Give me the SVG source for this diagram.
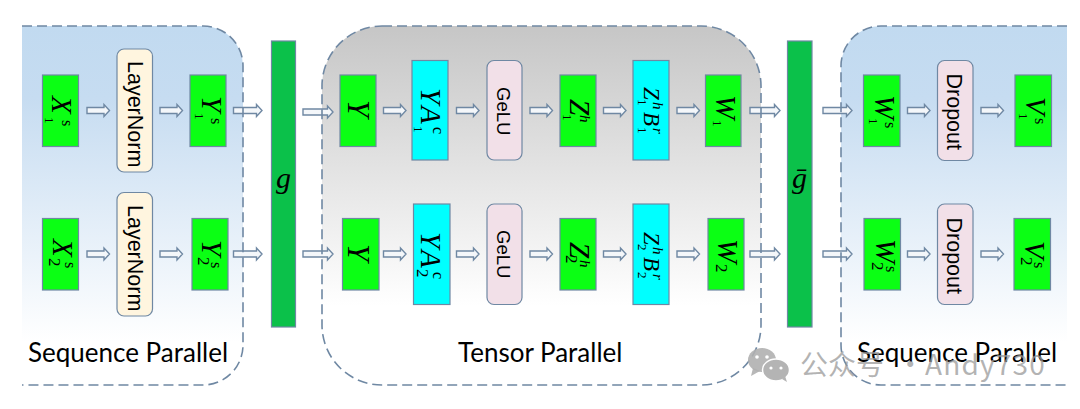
<svg xmlns="http://www.w3.org/2000/svg" width="1080" height="409" viewBox="0 0 1080 409">
<style>
.b{stroke:#6f88a3;stroke-width:1.2}
.gr{fill:#0bff14}.cy{fill:#00ffff}.bar{fill:#0bc14a}.ln{fill:#fff5df}.pk{fill:#f2e0e8}
.dash{fill:none;stroke:#6f88a3;stroke-width:1.6;stroke-dasharray:10 5}
.ar{fill:#f4f7fa;stroke:#6f88a3;stroke-width:1.4}
.m{font-family:"Liberation Serif",serif;font-style:italic;font-size:29px;fill:#000}
.m2{font-size:23px}
.s{font-style:normal;font-size:16px}
.d{font-style:normal;font-size:13px}
.e{font-style:normal;font-size:17px}
.i{font-style:italic;font-size:15px}
.l{font-family:"Liberation Sans",Arial,sans-serif;font-size:21.500px;fill:#000}
.g{font-size:18.500px}
.t{font-family:Lato,"Noto Sans",sans-serif;font-size:26px;fill:#000}
.wm{font-family:"Noto Sans CJK SC","Noto Sans",sans-serif;font-size:28px;fill:#9a9a9a;fill-opacity:.75}
</style>
<defs>
<linearGradient id="blue" x1="0" y1="0" x2="0" y2="1"><stop offset="0" stop-color="#c1daf0"/><stop offset=".2" stop-color="#c6dcf1"/><stop offset=".88" stop-color="#ffffff"/></linearGradient>
<linearGradient id="grey" x1="0" y1="0" x2="0" y2="1"><stop offset="0" stop-color="#c6c6c6"/><stop offset=".78" stop-color="#ffffff"/></linearGradient>
</defs>
<rect width="1080" height="409" fill="#fff"/>
<g id="panels">
<path d="M22 26H203A40 40 0 0 1 243 66V345A40 40 0 0 1 203 385H22Z" fill="url(#blue)"/>
<rect x="322" y="26" width="439" height="359" rx="60" fill="url(#grey)"/>
<path d="M1067 26H881A40 40 0 0 0 841 66V345A40 40 0 0 0 881 385H1067Z" fill="url(#blue)"/>
</g>
<g id="connectors">
<path class="ar" d="M87 107.500H104V104.500L109.500 110.500L104 116.500V113.500H87Z"/>
<path class="ar" d="M160 107.500H177V104.500L182.500 110.500L177 116.500V113.500H160Z"/>
<path class="ar" d="M233.500 107.500H256.500V104.500L262 110.500L256.500 116.500V113.500H233.500Z"/>
<path class="ar" d="M303 109H327.500V106L333 112L327.500 118V115H303Z"/>
<path class="ar" d="M383.500 107.500H400.500V104.500L406 110.500L400.500 116.500V113.500H383.500Z"/>
<path class="ar" d="M456.500 107.500H473.500V104.500L479 110.500L473.500 116.500V113.500H456.500Z"/>
<path class="ar" d="M530 107.500H547V104.500L552.500 110.500L547 116.500V113.500H530Z"/>
<path class="ar" d="M603.500 107.500H620.500V104.500L626 110.500L620.500 116.500V113.500H603.500Z"/>
<path class="ar" d="M677 107.500H694V104.500L699.500 110.500L694 116.500V113.500H677Z"/>
<path class="ar" d="M750 107.500H774.500V104.500L780 110.500L774.500 116.500V113.500H750Z"/>
<path class="ar" d="M823 107.500H846.500V104.500L852 110.500L846.500 116.500V113.500H823Z"/>
<path class="ar" d="M907.500 107.500H924.500V104.500L930 110.500L924.500 116.500V113.500H907.500Z"/>
<path class="ar" d="M981 107.500H998V104.500L1003.500 110.500L998 116.500V113.500H981Z"/>
<path class="ar" d="M87 251H104V248L109.500 254L104 260V257H87Z"/>
<path class="ar" d="M160 251H177V248L182.500 254L177 260V257H160Z"/>
<path class="ar" d="M233.500 251H256.500V248L262 254L256.500 260V257H233.500Z"/>
<path class="ar" d="M303 251H327.500V248L333 254L327.500 260V257H303Z"/>
<path class="ar" d="M383.500 251H400.500V248L406 254L400.500 260V257H383.500Z"/>
<path class="ar" d="M456.500 251H473.500V248L479 254L473.500 260V257H456.500Z"/>
<path class="ar" d="M530 251H547V248L552.500 254L547 260V257H530Z"/>
<path class="ar" d="M603.500 251H620.500V248L626 254L620.500 260V257H603.500Z"/>
<path class="ar" d="M677 251H694V248L699.500 254L694 260V257H677Z"/>
<path class="ar" d="M750 251H774.500V248L780 254L774.500 260V257H750Z"/>
<path class="ar" d="M823 251H846.500V248L852 254L846.500 260V257H823Z"/>
<path class="ar" d="M907.500 251H924.500V248L930 254L924.500 260V257H907.500Z"/>
<path class="ar" d="M981 251H998V248L1003.500 254L998 260V257H981Z"/>
</g>
<g id="panel-borders">
<path class="dash" d="M22 26H203A40 40 0 0 1 243 66V345A40 40 0 0 1 203 385H22"/>
<rect class="dash" x="322" y="26" width="439" height="359" rx="60"/>
<path class="dash" d="M1067 26H881A40 40 0 0 0 841 66V345A40 40 0 0 0 881 385H1067"/>
</g>
<g id="X1s"><rect class="b gr" x="42.500" y="75" width="36" height="71.500"/><text class="m" transform="translate(52 96) rotate(90)">X<tspan class="d" x="21" y="7">1</tspan><tspan class="s" x="24" y="-10">s</tspan></text></g>
<g id="LN1"><rect class="b ln" x="117" y="49" width="35.500" height="123" rx="7"/><text class="l" transform="translate(127.500 61) rotate(90)">LayerNorm</text></g>
<g id="Y1s"><rect class="b gr" x="190" y="75" width="36" height="71.500"/><text class="m" transform="translate(202 96) rotate(90)">Y<tspan class="d" x="17" y="7">1</tspan><tspan class="s" x="22" y="-9">s</tspan></text></g>
<g id="X2s"><rect class="b gr" x="42.500" y="218.500" width="36" height="71.500"/><text class="m" transform="translate(53 239) rotate(90)">X<tspan class="e" x="19" y="4">2</tspan><tspan class="s" x="23" y="-12">s</tspan></text></g>
<g id="LN2"><rect class="b ln" x="117" y="192.500" width="35.500" height="123.500" rx="7"/><text class="l" transform="translate(127.500 205) rotate(90)">LayerNorm</text></g>
<g id="Y2s"><rect class="b gr" x="192" y="218.500" width="36" height="71.500"/><text class="m" transform="translate(202 240) rotate(90)">Y<tspan class="e" x="17" y="4">2</tspan><tspan class="s" x="22" y="-9">s</tspan></text></g>
<g id="g"><rect class="b bar" x="271.500" y="41" width="24" height="286"/><text class="m" x="276" y="188" style="font-size:30px">g</text></g>
<g id="Y1"><rect class="b gr" x="340" y="75" width="36" height="71.500"/><text class="m" transform="translate(348 100) rotate(90)" style="font-size:31px">Y</text></g>
<g id="YA1"><rect class="b cy" x="412" y="60.500" width="36" height="99.500"/><text class="m" transform="translate(421 88) rotate(90)">Y<tspan x="18" y="0">A</tspan><tspan class="d" x="38" y="7">1</tspan><tspan class="s" x="39" y="-12">c</tspan></text></g>
<g id="GeLU1"><rect class="b pk" x="487" y="60.500" width="35" height="99.500" rx="7"/><text class="l g" transform="translate(497 87) rotate(90)">GeLU</text></g>
<g id="Z1"><rect class="b gr" x="560" y="75" width="36" height="71.500"/><text class="m" transform="translate(570 99) rotate(90)">Z<tspan class="d" x="15" y="7">1</tspan><tspan class="i" x="16" y="-10">h</tspan></text></g>
<g id="ZB1"><rect class="b cy" x="633" y="60.500" width="36" height="99.500"/><text class="m m2" transform="translate(644 87) rotate(90)">Z<tspan class="d" x="12" y="6">1</tspan><tspan class="i" x="15" y="-9">h</tspan><tspan x="25" y="0">B</tspan><tspan class="d" x="40" y="6">1</tspan><tspan class="i" x="41" y="-9">r</tspan></text></g>
<g id="W1"><rect class="b gr" x="705.500" y="75" width="35.500" height="71.500"/><text class="m" transform="translate(716 95) rotate(90)">W<tspan class="d" x="25" y="3">1</tspan></text></g>
<g id="Y2"><rect class="b gr" x="342.500" y="218.500" width="36.500" height="71.500"/><text class="m" transform="translate(348 244) rotate(90)" style="font-size:31px">Y</text></g>
<g id="YA2"><rect class="b cy" x="413.500" y="204" width="36.500" height="100.500"/><text class="m" transform="translate(421 232) rotate(90)">Y<tspan x="18" y="0">A</tspan><tspan class="e" x="37" y="4">2</tspan><tspan class="s" x="40" y="-12">c</tspan></text></g>
<g id="GeLU2"><rect class="b pk" x="487" y="204" width="35" height="100.500" rx="7"/><text class="l g" transform="translate(497 230) rotate(90)">GeLU</text></g>
<g id="Z2"><rect class="b gr" x="560" y="218.500" width="36" height="71.500"/><text class="m" transform="translate(570 242) rotate(90)">Z<tspan class="e" x="13" y="4">2</tspan><tspan class="i" x="18" y="-10">h</tspan></text></g>
<g id="ZB2"><rect class="b cy" x="633" y="204" width="36" height="100.500"/><text class="m m2" transform="translate(644 232) rotate(90)">Z<tspan class="d" x="12" y="6">2</tspan><tspan class="i" x="15" y="-9">h</tspan><tspan x="25" y="0">B</tspan><tspan class="d" x="40" y="6">2</tspan><tspan class="i" x="42" y="-9">r</tspan></text></g>
<g id="W2"><rect class="b gr" x="708" y="218.500" width="36" height="71.500"/><text class="m" transform="translate(718 239) rotate(90)">W<tspan class="e" x="25" y="2">2</tspan></text></g>
<g id="gbar"><rect class="b bar" x="787.500" y="41" width="24.500" height="286"/><text class="m" x="792" y="188" style="font-size:30px">ḡ</text></g>
<g id="W1s"><rect class="b gr" x="863.500" y="75" width="36.500" height="71.500"/><text class="m" transform="translate(875 95) rotate(90)">W<tspan class="d" x="23" y="6">1</tspan><tspan class="s" x="27" y="-10">s</tspan></text></g>
<g id="DO1"><rect class="b pk" x="937.500" y="60.500" width="35.500" height="100" rx="7"/><text class="l" transform="translate(947 73.500) rotate(90)">Dropout</text></g>
<g id="V1s"><rect class="b gr" x="1015" y="75" width="36.500" height="71.500"/><text class="m" transform="translate(1026 97) rotate(90)">V<tspan class="d" x="16" y="7">1</tspan><tspan class="s" x="21" y="-9">s</tspan></text></g>
<g id="W2s"><rect class="b gr" x="864" y="218.500" width="36.500" height="71.500"/><text class="m" transform="translate(876 239) rotate(90)">W<tspan class="e" x="23" y="4">2</tspan><tspan class="s" x="27" y="-10">s</tspan></text></g>
<g id="DO2"><rect class="b pk" x="937.500" y="204" width="35.500" height="100.500" rx="7"/><text class="l" transform="translate(947 217.500) rotate(90)">Dropout</text></g>
<g id="V2s"><rect class="b gr" x="1014" y="218.500" width="36.500" height="71.500"/><text class="m" transform="translate(1025 241) rotate(90)">V<tspan class="e" x="16" y="4">2</tspan><tspan class="s" x="21" y="-9">s</tspan></text></g>
<g id="labels">
<text class="t" x="28" y="362">Sequence Parallel</text>
<text class="t" x="458" y="362">Tensor Parallel</text>
<text class="t" x="857" y="362">Sequence Parallel</text>
</g>
<g id="watermark">
<ellipse cx="762" cy="360" rx="14" ry="12" fill="#b0b0b0" fill-opacity=".9"/>
<path d="M753 368L751 376L760 371Z" fill="#b0b0b0" fill-opacity=".9"/>
<ellipse cx="776" cy="370" rx="13.500" ry="11" fill="#b4b4b4" stroke="#fff" stroke-width="1.500"/>
<path d="M782 379L787 382L785 376Z" fill="#b4b4b4"/>
<circle cx="757" cy="357" r="1.800" fill="#fff"/><circle cx="767" cy="357" r="1.800" fill="#fff"/>
<circle cx="771" cy="368" r="1.600" fill="#fff"/><circle cx="781" cy="368" r="1.600" fill="#fff"/>
<text class="wm" x="800" y="375">公众号<tspan x="890"> · </tspan><tspan x="925" style="letter-spacing:1.200px">Andy730</tspan></text>
</g>
</svg>
